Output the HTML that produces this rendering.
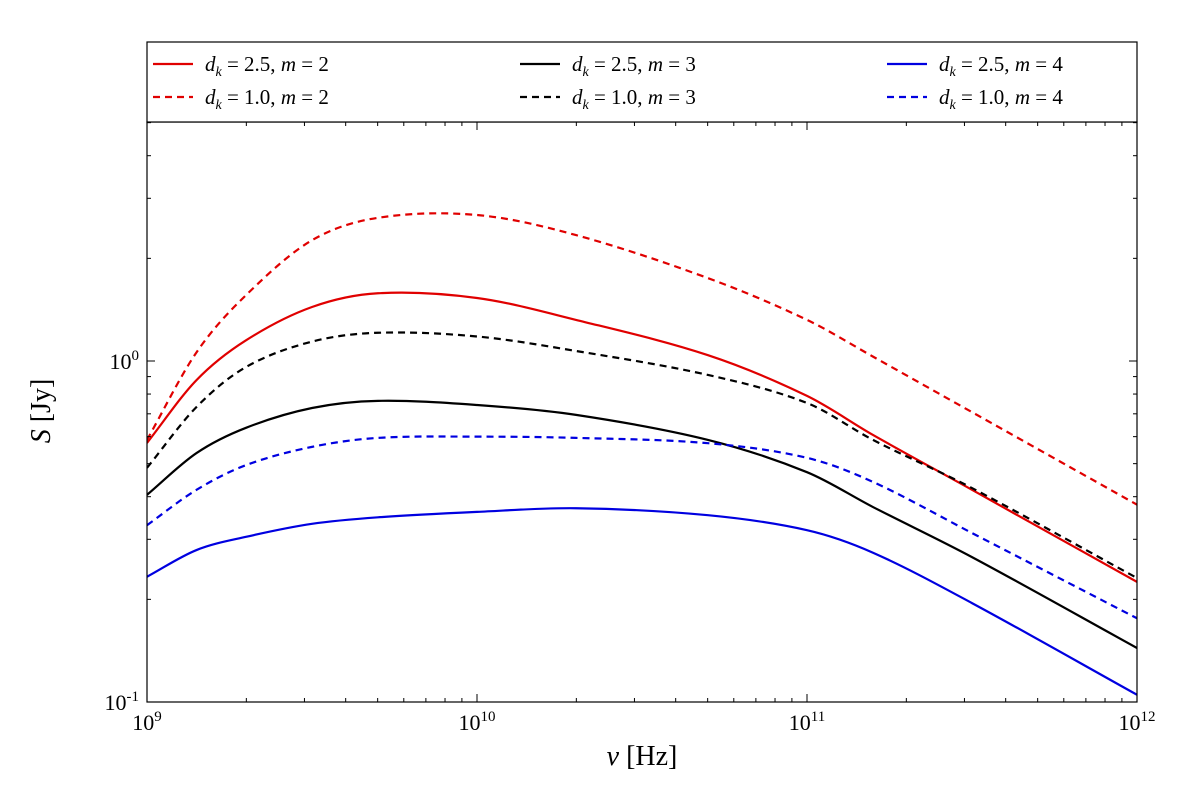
<!DOCTYPE html>
<html><head><meta charset="utf-8">
<style>
html,body{margin:0;padding:0;background:#fff;}
svg{display:block;font-family:"Liberation Serif",serif;}
</style></head>
<body>
<svg id="chart" width="1200" height="802" viewBox="0 0 1200 802" xmlns="http://www.w3.org/2000/svg">
<rect width="1200" height="802" fill="#fff"/>
<g id="marks"></g>
<g id="axes"></g>
<g id="legend"></g>
</svg>
<script>
const freqExp    = [9, 9.15, 9.3, 9.5, 9.7, 10, 10.3, 10.7, 11, 11.2, 11.5, 12];
const redSolid   = [0.575, 0.879, 1.15, 1.44, 1.58, 1.53, 1.32, 1.04, 0.79, 0.607, 0.419, 0.225];
const redDashed  = [0.587, 1.06, 1.56, 2.26, 2.63, 2.68, 2.34, 1.75, 1.32, 1.03, 0.708, 0.379];
const blackSolid = [0.405, 0.537, 0.637, 0.728, 0.764, 0.743, 0.695, 0.587, 0.472, 0.373, 0.266, 0.144];
const blackDashed= [0.486, 0.733, 0.96, 1.14, 1.21, 1.18, 1.07, 0.91, 0.753, 0.587, 0.424, 0.231];
const blueSolid  = [0.233, 0.279, 0.305, 0.333, 0.348, 0.361, 0.37, 0.353, 0.319, 0.274, 0.195, 0.105];
const blueDashed = [0.33, 0.419, 0.495, 0.56, 0.595, 0.6, 0.595, 0.574, 0.52, 0.442, 0.313, 0.176];
const xTickExp = [9, 10, 11, 12];
const yTickExp = [-1, 0];

const NS="http://www.w3.org/2000/svg";
const L=147,R=1137,T=122,B=702;
const X=e=>L+(e-9)*(R-L)/3;
const Y=v=>B-(Math.log10(v)+1)*341;
function mk(tag,attrs,parent){const el=document.createElementNS(NS,tag);for(const k in attrs)el.setAttribute(k,attrs[k]);parent.appendChild(el);return el;}
const marks=document.getElementById('marks'),axes=document.getElementById('axes'),legend=document.getElementById('legend');

const clip=mk('clipPath',{id:'pc'},marks);mk('rect',{x:L,y:T,width:R-L,height:B-T},clip);
function pathFor(vals){
  const p=vals.map((v,i)=>[X(freqExp[i]),Y(v)]);
  let d=`M${p[0][0]},${p[0][1]}`;
  for(let i=0;i<p.length-1;i++){
    const p0=p[Math.max(0,i-1)],p1=p[i],p2=p[i+1],p3=p[Math.min(p.length-1,i+2)];
    const h=p2[0]-p1[0];
    const s1=(p2[1]-p0[1])/(p2[0]-p0[0]||1), s2=(p3[1]-p1[1])/(p3[0]-p1[0]||1);
    const c1=[p1[0]+h/3,p1[1]+s1*h/3];
    const c2=[p2[0]-h/3,p2[1]-s2*h/3];
    d+=` C${c1[0]},${c1[1]} ${c2[0]},${c2[1]} ${p2[0]},${p2[1]}`;
  }
  return d;
}
const series=[
 [redSolid,'#e00000',false,'series-dk2.5-m2'],[redDashed,'#e00000',true,'series-dk1.0-m2'],
 [blackSolid,'#000',false,'series-dk2.5-m3'],[blackDashed,'#000',true,'series-dk1.0-m3'],
 [blueSolid,'#0000e0',false,'series-dk2.5-m4'],[blueDashed,'#0000e0',true,'series-dk1.0-m4']];
series.forEach(s=>{
  const el=mk('path',{d:pathFor(s[0]),fill:'none',stroke:s[1],'stroke-width':2.2,'clip-path':'url(#pc)'},marks);
  if(s[2])el.setAttribute('stroke-dasharray','7,5');
  
  
});

mk('rect',{x:L,y:T,width:R-L,height:B-T,fill:'none',stroke:'#000','stroke-width':1.2},axes);
for(let e=9;e<12;e++){for(let k=2;k<10;k++){const x=X(e+Math.log10(k));
  mk('line',{x1:x,x2:x,y1:B,y2:B-4,stroke:'#000'},axes);mk('line',{x1:x,x2:x,y1:T,y2:T+4,stroke:'#000'},axes);}}
xTickExp.forEach(e=>{const x=X(e);
  mk('line',{x1:x,x2:x,y1:B,y2:B-8,stroke:'#000'},axes);mk('line',{x1:x,x2:x,y1:T,y2:T+8,stroke:'#000'},axes);
  const t=mk('text',{x:x,y:B+28,'font-size':22,'text-anchor':'middle'},axes);
  t.innerHTML=`10<tspan font-size="15" dy="-9">${e}</tspan>`;
  
  
});
const ymax=Math.log10(5.05);
for(let e=-1;e<1;e++){for(let k=2;k<10;k++){const lv=e+Math.log10(k);if(lv>ymax)continue;const y=Y(Math.pow(10,lv));
  mk('line',{x1:L,x2:L+4,y1:y,y2:y,stroke:'#000'},axes);mk('line',{x1:R,x2:R-4,y1:y,y2:y,stroke:'#000'},axes);}}
yTickExp.forEach(e=>{const y=Y(Math.pow(10,e));
  mk('line',{x1:L,x2:L+8,y1:y,y2:y,stroke:'#000'},axes);mk('line',{x1:R,x2:R-8,y1:y,y2:y,stroke:'#000'},axes);
  const t=mk('text',{x:L-8,y:y+8,'font-size':22,'text-anchor':'end'},axes);
  t.innerHTML=e===0?'10<tspan font-size="15" dy="-9">0</tspan>':'10<tspan font-size="15" dy="-9">-1</tspan>';
  
  
});
const xt=mk('text',{x:642,y:765,'font-size':28,'text-anchor':'middle'},axes);
xt.innerHTML='<tspan font-style="italic">ν</tspan> [Hz]';


const yt=mk('text',{x:0,y:0,'font-size':28,'text-anchor':'middle',transform:'translate(50,411) rotate(-90)'},axes);
yt.innerHTML='<tspan font-style="italic">S</tspan> [Jy]';



mk('rect',{x:L,y:42,width:R-L,height:80,fill:'#fff',stroke:'#000','stroke-width':1.2},legend);
const legX=[153,520,887],legY=[64,97];
const cols=['#e00000','#000','#0000e0'],ms=[2,3,4],dks=['2.5','1.0'];
for(let c=0;c<3;c++)for(let r=0;r<2;r++){
  const g=mk('g',{},legend);
  
  
  const ln=mk('line',{x1:legX[c],x2:legX[c]+40,y1:legY[r],y2:legY[r],stroke:cols[c],'stroke-width':2.2},g);
  if(r===1)ln.setAttribute('stroke-dasharray','7,5');
  const t=mk('text',{x:legX[c]+52,y:legY[r]+7,'font-size':21},g);
  t.innerHTML=`<tspan font-style="italic">d</tspan><tspan font-style="italic" font-size="14" dy="5">k</tspan><tspan dy="-5"> = ${dks[r]}, </tspan><tspan font-style="italic">m</tspan> = ${ms[c]}`;
}
</script>
</body></html>
